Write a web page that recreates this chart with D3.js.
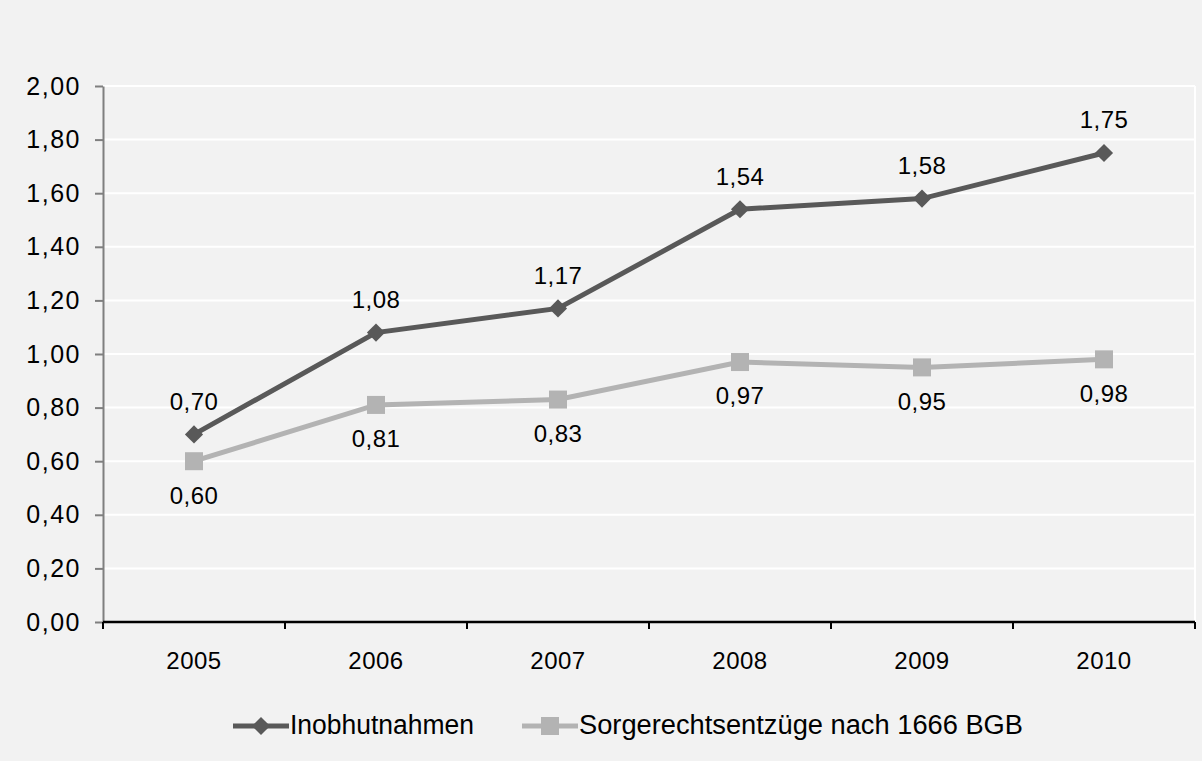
<!DOCTYPE html>
<html>
<head>
<meta charset="utf-8">
<script src="https://cdn.jsdelivr.net/npm/d3@7"></script>
<style>
  body { margin: 0; background: #f2f2f2; }
  svg text { font-family: "Liberation Sans", Arial, sans-serif; fill: #000; }
</style>
</head>
<body>
<svg id="chart"></svg>
<script>
// data
const years = ["2005", "2006", "2007", "2008", "2009", "2010"];
const inobhut = [0.70, 1.08, 1.17, 1.54, 1.58, 1.75];
const sorgerecht = [0.60, 0.81, 0.83, 0.97, 0.95, 0.98];
const yTicks = [0, 0.2, 0.4, 0.6, 0.8, 1.0, 1.2, 1.4, 1.6, 1.8, 2.0];
const seriesNames = ["Inobhutnahmen", "Sorgerechtsentzüge nach 1666 BGB"];

const width = 1202, height = 761;
const svg = d3.select("#chart").attr("width", width).attr("height", height);
svg.append("rect").attr("width", width).attr("height", height).attr("fill", "#f2f2f2");

const plotL = 103, plotR = 1195, plotT = 86, plotB = 622;
const fs = 24;
const fmt = v => d3.format(".2f")(v).replace(".", ",");

const x = d3.scaleBand().domain(years).range([plotL, plotR]);
const y = d3.scaleLinear().domain([0, 2]).range([plotB, plotT]);

// gridlines
svg.append("g").selectAll("line")
  .data(yTicks.filter(d => d > 0))
  .enter().append("line")
  .attr("x1", plotL).attr("x2", plotR)
  .attr("y1", d => y(d)).attr("y2", d => y(d))
  .attr("stroke", "#ffffff").attr("stroke-width", 2);
// right edge line
svg.append("line").attr("x1", plotR).attr("x2", plotR).attr("y1", plotT).attr("y2", plotB)
  .attr("stroke", "#ffffff").attr("stroke-width", 2);

// y axis
const yAxis = svg.append("g").attr("transform", `translate(${plotL},0)`)
  .call(d3.axisLeft(y).tickValues(yTicks).tickFormat(fmt).tickSize(8).tickSizeOuter(0).tickPadding(14));
yAxis.attr("font-size", null).attr("font-family", null);
yAxis.select(".domain").attr("stroke", "#7f7f7f").attr("stroke-width", 2);
yAxis.selectAll(".tick line").attr("stroke", "#7f7f7f").attr("stroke-width", 2);
yAxis.selectAll("text").style("font-size", "25px").style("letter-spacing", "1.5px").attr("fill", "#000");

// x axis
const xAxis = svg.append("g").attr("transform", `translate(0,${plotB})`)
  .call(d3.axisBottom(x).tickSize(0).tickPadding(30));
xAxis.attr("font-size", null).attr("font-family", null);
xAxis.select(".domain").remove();
xAxis.selectAll("text").style("font-size", fs + "px").style("letter-spacing", "0.5px").attr("fill", "#000");
svg.append("line").attr("x1", plotL).attr("x2", plotR).attr("y1", plotB).attr("y2", plotB)
  .attr("stroke", "#000").attr("stroke-width", 2.5);
const bounds = years.map(d => x(d)).concat([plotR]);
svg.append("g").selectAll("line").data(bounds).enter().append("line")
  .attr("x1", d => d).attr("x2", d => d).attr("y1", plotB).attr("y2", plotB + 7)
  .attr("stroke", "#000").attr("stroke-width", 2);

const cx = d => x(d) + x.bandwidth() / 2;
const line = d3.line().x(d => cx(d.year)).y(d => y(d.v));

const s1 = years.map((yr, i) => ({ year: yr, v: inobhut[i] }));
const s2 = years.map((yr, i) => ({ year: yr, v: sorgerecht[i] }));

const dark = "#595959", light = "#b3b3b3";

// light series
svg.append("path").datum(s2).attr("d", line).attr("fill", "none")
  .attr("stroke", light).attr("stroke-width", 5);
svg.append("g").selectAll("rect").data(s2).enter().append("rect")
  .attr("x", d => cx(d.year) - 9).attr("y", d => y(d.v) - 9)
  .attr("width", 18).attr("height", 18).attr("fill", light);
svg.append("g").selectAll("text").data(s2).enter().append("text")
  .attr("x", d => cx(d.year)).attr("y", d => y(d.v) + 36)
  .attr("text-anchor", "middle").attr("dominant-baseline", "middle")
  .style("font-size", fs + "px").style("letter-spacing", "0.5px").text(d => fmt(d.v));

// dark series
svg.append("path").datum(s1).attr("d", line).attr("fill", "none")
  .attr("stroke", dark).attr("stroke-width", 5);
const diamond = d3.symbol().type(d3.symbolSquare).size(165);
svg.append("g").selectAll("path").data(s1).enter().append("path")
  .attr("d", diamond)
  .attr("transform", d => `translate(${cx(d.year)},${y(d.v)}) rotate(45)`)
  .attr("fill", dark);
svg.append("g").selectAll("text").data(s1).enter().append("text")
  .attr("x", d => cx(d.year)).attr("y", d => y(d.v) - 31)
  .attr("text-anchor", "middle").attr("dominant-baseline", "middle")
  .style("font-size", fs + "px").style("letter-spacing", "0.5px").text(d => fmt(d.v));

// legend
const legend = [
  { name: seriesNames[0], color: dark, x0: 233, len: 184, shape: "diamond" },
  { name: seriesNames[1], color: light, x0: 522, len: 444, shape: "square" }
];
const ly = 726;
legend.forEach(l => {
  const g = svg.append("g");
  g.append("line").attr("x1", l.x0).attr("x2", l.x0 + 56).attr("y1", ly).attr("y2", ly)
    .attr("stroke", l.color).attr("stroke-width", 5);
  if (l.shape === "diamond") {
    g.append("path").attr("d", diamond)
      .attr("transform", `translate(${l.x0 + 28},${ly}) rotate(45)`).attr("fill", l.color);
  } else {
    g.append("rect").attr("x", l.x0 + 19).attr("y", ly - 9).attr("width", 18).attr("height", 18)
      .attr("fill", l.color);
  }
  g.append("text").attr("x", l.x0 + 57).attr("y", ly + 1).attr("dominant-baseline", "middle")
    .attr("textLength", l.len).attr("lengthAdjust", "spacingAndGlyphs")
    .style("font-size", "27px").text(l.name);
});
</script>
</body>
</html>
